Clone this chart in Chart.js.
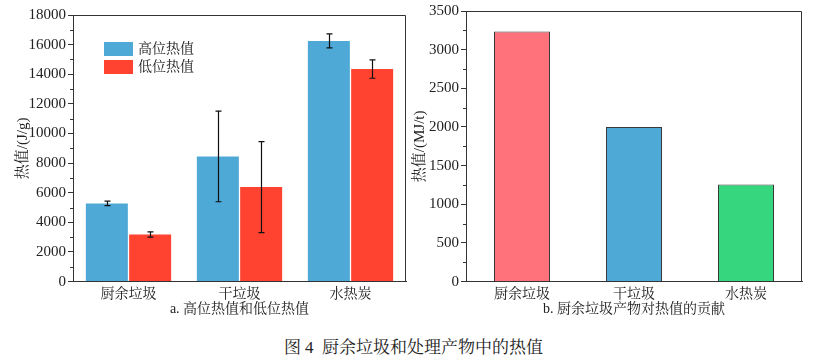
<!DOCTYPE html>
<html>
<head>
<meta charset="utf-8">
<script src="https://cdn.jsdelivr.net/npm/chart.js@4.4.0/dist/chart.umd.min.js"></script>
<style>
body { margin: 0; background: #fff; width: 827px; height: 362px; position: relative; overflow: hidden; }
#boxA { position: absolute; left: 0; top: 0; width: 415px; height: 320px; }
#boxB { position: absolute; left: 405px; top: 0; width: 422px; height: 320px; }
#caption { position: absolute; left: 0; width: 827px; top: 333px; text-align: center;
  font: 17px 'Liberation Serif', 'Noto Serif CJK SC', 'Noto Sans CJK SC', serif; color: #222; }
</style>
</head>
<body>
<div id="boxA"><canvas id="chartA"></canvas></div>
<div id="boxB"><canvas id="chartB"></canvas></div>
<div id="caption">图 4&nbsp;&nbsp;厨余垃圾和处理产物中的热值</div>
<script>
// data
const categories = ['厨余垃圾', '干垃圾', '水热炭'];
const seriesNames = ['高位热值', '低位热值'];
const highValues = [5280, 8450, 16250];
const highErrors = [150, 3060, 470];
const lowValues = [3180, 6380, 14350];
const lowErrors = [180, 3070, 620];
const contribValues = [3235, 2000, 1255];

const subtitleA = 'a. 高位热值和低位热值';
const subtitleB = 'b. 厨余垃圾产物对热值的贡献';
const yTitleA = '热值/(J/g)';
const yTitleB = '热值/(MJ/t)';

// colors
const colors = {
    blue: '#4ea9d6',
    red: '#ff4330',
    pink: '#ff727b',
    green: '#36d67f',
    axis: '#333333'
};

const serifFont = "'Liberation Serif', 'Noto Serif CJK SC', 'Noto Sans CJK SC', serif";
Chart.defaults.font.family = serifFont;
Chart.defaults.color = '#222';

// frame round the plot area
const framePlugin = {
    id: 'frame',
    afterDraw(chart) {
        const { ctx, chartArea: a } = chart;
        ctx.save();
        ctx.strokeStyle = colors.axis;
        ctx.lineWidth = 1;
        ctx.beginPath();
        ctx.moveTo(a.left, a.top + 0.5);
        ctx.lineTo(a.right - 0.5, a.top + 0.5);
        ctx.lineTo(a.right - 0.5, a.bottom);
        ctx.stroke();
        ctx.restore();
    }
};

// short minor ticks between the labelled ones
const minorTickPlugin = {
    id: 'minorTicks',
    afterDraw(chart, args, opts) {
        const y = chart.scales.y;
        const ctx = chart.ctx;
        ctx.save();
        ctx.strokeStyle = colors.axis;
        ctx.lineWidth = 1;
        for (let v = opts.step; v < y.max; v += opts.step * 2) {
            const py = Math.round(y.getPixelForValue(v)) + 0.5;
            ctx.beginPath();
            ctx.moveTo(y.right - 3, py);
            ctx.lineTo(y.right, py);
            ctx.stroke();
        }
        ctx.restore();
    }
};

// error bars
const errorBarPlugin = {
    id: 'errorBars',
    afterDatasetsDraw(chart) {
        const ctx = chart.ctx;
        const yScale = chart.scales.y;
        chart.data.datasets.forEach((ds, i) => {
            if (!ds.errors) return;
            const meta = chart.getDatasetMeta(i);
            meta.data.forEach((bar, j) => {
                const v = ds.data[j];
                const e = ds.errors[j];
                const top = yScale.getPixelForValue(v + e);
                const bot = yScale.getPixelForValue(v - e);
                const x = Math.round(bar.x) + 0.5;
                ctx.save();
                ctx.strokeStyle = '#111';
                ctx.lineWidth = 1.2;
                ctx.beginPath();
                ctx.moveTo(x, top);
                ctx.lineTo(x, bot);
                ctx.moveTo(x - 3, top);
                ctx.lineTo(x + 3, top);
                ctx.moveTo(x - 3, bot);
                ctx.lineTo(x + 3, bot);
                ctx.stroke();
                ctx.restore();
            });
        });
    }
};

// legend inside the plot
const innerLegendPlugin = {
    id: 'innerLegend',
    afterDraw(chart) {
        const { ctx, chartArea: a } = chart;
        ctx.save();
        ctx.font = '14px ' + serifFont;
        ctx.textBaseline = 'middle';
        chart.data.datasets.forEach((ds, i) => {
            const bx = a.left + 31;
            const by = a.top + 27 + i * 18;
            ctx.fillStyle = ds.backgroundColor;
            ctx.fillRect(bx, by, 29, 14);
            ctx.fillStyle = '#222';
            ctx.fillText(ds.label, bx + 34, by + 7);
        });
        ctx.restore();
    }
};

function yAxis(max, step, title, width, titlePad) {
    return {
        min: 0,
        max: max,
        ticks: { stepSize: step, font: { size: 15 }, color: '#222', padding: 2, callback: v => String(v) },
        grid: { drawOnChartArea: false, drawTicks: true, tickLength: 5, color: colors.axis },
        border: { display: true, color: colors.axis, width: 1 },
        title: { display: true, text: title, font: { size: 15 }, color: '#222', padding: { top: titlePad, bottom: 2 } },
        afterFit(scale) { scale.width = width; }
    };
}

function xAxis(subtitle) {
    return {
        ticks: { font: { size: 14, lineHeight: 1.1 }, color: '#222', padding: 5 },
        grid: { display: false, drawTicks: false },
        border: { display: true, color: colors.axis, width: 1 },
        title: { display: true, text: subtitle, font: { size: 14, lineHeight: 1 }, color: '#222', padding: { top: -5, bottom: 0 } }
    };
}

new Chart(document.getElementById('chartA'), {
    type: 'bar',
    data: {
        labels: categories,
        datasets: [
            { label: seriesNames[0], data: highValues, errors: highErrors, backgroundColor: colors.blue,
              categoryPercentage: 0.78, barPercentage: 0.97 },
            { label: seriesNames[1], data: lowValues, errors: lowErrors, backgroundColor: colors.red,
              categoryPercentage: 0.78, barPercentage: 0.97 }
        ]
    },
    options: {
        responsive: true,
        maintainAspectRatio: false,
        animation: false,
        layout: { padding: { top: 15, right: 9, bottom: 4 } },
        plugins: { legend: { display: false }, tooltip: { enabled: false }, minorTicks: { step: 1000 } },
        scales: { x: xAxis(subtitleA), y: yAxis(18000, 2000, yTitleA, 73, 14) }
    },
    plugins: [framePlugin, minorTickPlugin, errorBarPlugin, innerLegendPlugin]
});

new Chart(document.getElementById('chartB'), {
    type: 'bar',
    data: {
        labels: categories,
        datasets: [
            { label: yTitleB, data: contribValues, backgroundColor: [colors.pink, colors.blue, colors.green],
              borderColor: '#3a3a3a', borderWidth: 1, categoryPercentage: 0.5, barPercentage: 1 }
        ]
    },
    options: {
        responsive: true,
        maintainAspectRatio: false,
        animation: false,
        layout: { padding: { top: 10, right: 25, bottom: 4 } },
        plugins: { legend: { display: false }, tooltip: { enabled: false }, minorTicks: { step: 250 } },
        scales: { x: xAxis(subtitleB), y: yAxis(3500, 500, yTitleB, 61, 6) }
    },
    plugins: [framePlugin, minorTickPlugin]
});
</script>
</body>
</html>
